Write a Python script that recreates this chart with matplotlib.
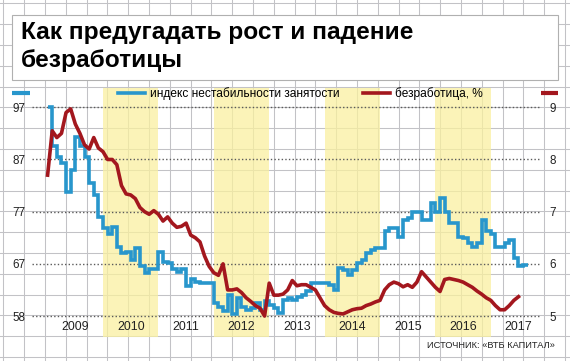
import numpy as np
import matplotlib
matplotlib.use("Agg")
import matplotlib.pyplot as plt
from matplotlib import font_manager
from matplotlib.patches import Rectangle
from matplotlib.transforms import blended_transform_factory

# monthly data, first value = January 2009
index_values = [
    97.0, 89.5, 87.5, 86.3, 80.8, 85.0, 91.4, 89.5, 87.5, 82.4, 80.2, 76.0,
    73.8, 72.8, 74.1, 70.3, 69.0, 69.3, 67.7, 70.1, 66.5, 65.2, 66.1, 66.1,
    69.3, 67.4, 67.1, 66.1, 65.5, 66.0, 62.8, 64.0, 63.5, 63.3, 63.3, 63.3,
    59.5, 58.8, 58.0, 61.0, 57.3, 60.5, 58.8, 58.2, 58.5, 59.5, 58.2, 59.8,
    59.1, 58.5, 57.5, 60.1, 60.4, 60.1, 60.7, 61.0, 61.7, 63.3, 63.3, 63.4,
    63.4, 63.0, 62.0, 66.2, 65.8, 64.9, 65.8, 67.1, 67.7, 69.0, 69.6, 70.0,
    70.0, 73.2, 73.8, 73.8, 72.2, 75.4, 75.7, 76.9, 76.9, 75.4, 75.4, 78.6,
    77.0, 79.6, 77.0, 74.8, 74.8, 72.2, 71.9, 71.0, 70.3, 70.9, 75.4, 73.2,
    72.8, 70.3, 70.3, 70.9, 71.6, 68.1, 66.5, 66.8,
]
unemployment = [
    7.70, 8.55, 8.42, 8.50, 8.90, 8.97, 8.68, 8.50, 8.28, 8.20, 8.42, 8.22,
    8.15, 8.00, 8.00, 7.90, 7.50, 7.34, 7.32, 7.25, 7.08, 7.00, 6.95, 7.02,
    6.95, 6.82, 6.90, 6.78, 6.70, 6.72, 6.78, 6.55, 6.50, 6.42, 6.15, 5.95,
    5.83, 5.78, 6.00, 5.50, 5.50, 5.52, 5.45, 5.35, 5.28, 5.20, 5.15, 5.00,
    5.63, 5.40, 5.40, 5.42, 5.50, 5.68, 5.58, 5.60, 5.60, 5.55, 5.50, 5.35,
    5.20, 5.12, 5.07, 5.05, 5.04, 5.08, 5.12, 5.14, 5.15, 5.20, 5.23, 5.27,
    5.30, 5.50, 5.60, 5.65, 5.62, 5.56, 5.60, 5.55, 5.65, 5.85, 5.75, 5.65,
    5.55, 5.47, 5.70, 5.72, 5.70, 5.68, 5.65, 5.60, 5.55, 5.48, 5.42, 5.35,
    5.30, 5.20, 5.12, 5.12, 5.20, 5.30, 5.37,
]
years = list(range(2009, 2018))
shaded_years = [2010, 2012, 2014, 2016]
unemp_ticks = [5, 6, 7, 8, 9]
index_tick_labels = ["58", "67", "77", "87", "97"]

title_lines = ["Как предугадать рост и падение", "безработицы"]
labels = ["индекс нестабильности занятости", "безработица, %"]
source = "ИСТОЧНИК: «ВТБ КАПИТАЛ»"

BLUE = "#2896cc"
RED = "#a3171e"
W, H = 570, 361

names = {f.name for f in font_manager.fontManager.ttflist}
narrow = "Liberation Sans Narrow" if "Liberation Sans Narrow" in names else "Liberation Sans"
plt.rcParams["font.family"] = [narrow, "DejaVu Sans"]

fig = plt.figure(figsize=(W / 100, H / 100), dpi=100)

# graph paper background, pixel coordinates
bg = fig.add_axes([0, 0, 1, 1])
bg.set_xlim(0, W)
bg.set_ylim(H, 0)
bg.axis("off")
for x in np.arange(3.4, W, 20.8):
    bg.axvline(x, color="#c2c2c6", lw=0.75, zorder=1)
for y in np.arange(3.3, H, 20.8):
    bg.axhline(y, color="#c2c2c6", lw=0.75, zorder=1)
bg.add_patch(Rectangle((12, 15), 546, 65, fc="white", ec="#b0b0b0", lw=0.8, zorder=3))
bg.text(21, 38.5, title_lines[0], fontsize=17.6, weight="bold", va="baseline", zorder=4)
bg.text(21, 67, title_lines[1], fontsize=17.6, weight="bold", va="baseline", zorder=4)
# axis colour keys
bg.plot([12, 30], [93, 93], color=BLUE, lw=3, solid_capstyle="butt", zorder=4)
bg.plot([541, 558], [93, 93], color=RED, lw=3, solid_capstyle="butt", zorder=4)

# data axes
ax = fig.add_axes([32 / W, 1 - 337 / H, 513 / W, 249 / H])
ax.patch.set_alpha(0)
ax.set_xlim(2009 + (32 - 47.6) / 55.4, 2009 + (545 - 47.6) / 55.4)
u_lo, u_hi = 4.598, 9.370
ax.set_ylim(10 * u_lo + 7, 10 * u_hi + 7)

for yr in shaded_years:
    ax.axvspan(yr, yr + 1, color="#faf0a0", alpha=0.75, lw=0, zorder=0)
for u in unemp_ticks:
    ax.axhline(10 * u + 7, xmax=0.99, color="#5a5a5a", ls=(0, (1, 1.6)), lw=1, zorder=1)

edges = 2009 + np.arange(len(index_values) + 1) / 12
blue_line = ax.stairs(index_values, edges, baseline=None, color=BLUE, lw=2.6, zorder=3)

ax.set_yticks([10 * u + 7 for u in unemp_ticks], labels=index_tick_labels)
ax.tick_params(axis="y", length=0, pad=5, labelsize=8.4, labelcolor="#222222")
ax.set_xticks([])
for s in ax.spines.values():
    s.set_visible(False)

trans = blended_transform_factory(ax.transData, ax.transAxes)
for yr in years:
    ax.text(yr + 0.5, 0.04, str(yr), transform=trans, ha="center", va="center",
            fontsize=8.9, color="#222222")

ax2 = ax.twinx()
ax2.set_ylim(u_lo, u_hi)
t = 2009 + np.arange(len(unemployment)) / 12
red_line, = ax2.plot(t, unemployment, color=RED, lw=2.6, solid_joinstyle="round", zorder=4)
ax2.set_yticks(unemp_ticks)
ax2.tick_params(axis="y", length=0, pad=3, labelsize=8.4, labelcolor="#222222")
for s in ax2.spines.values():
    s.set_visible(False)

ax2.legend([blue_line, red_line], labels, ncol=2, loc="center left",
           bbox_to_anchor=(118 / W, 1 - 94 / H), bbox_transform=fig.transFigure,
           frameon=False, handlelength=2.25, handletextpad=0.4, columnspacing=2,
           borderpad=0, borderaxespad=0, fontsize=8.6)

fig.text(555 / W, 1 - 346 / H, source, ha="right", va="center", fontsize=6.7, color="#222222")

fig.savefig("out.png", dpi=100)
